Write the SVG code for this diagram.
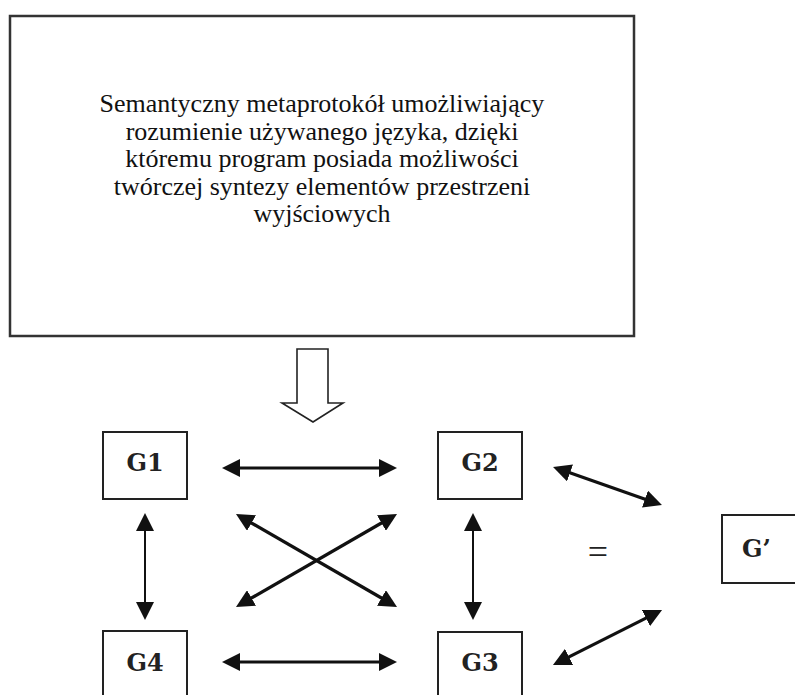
<svg xmlns="http://www.w3.org/2000/svg" width="795" height="695" viewBox="0 0 795 695">
<defs>
<style>
.box{fill:#fff;stroke:#222;stroke-width:2}
.big{fill:#fff;stroke:#333;stroke-width:2.5}
.main{font-size:26px;fill:#111;text-anchor:middle}
.lbl{font-size:24px;font-weight:bold;fill:#222;text-anchor:middle}
.thick{stroke:#111;stroke-width:3.2;fill:none;marker-start:url(#ah);marker-end:url(#ah)}
.thin{stroke:#111;stroke-width:2;fill:none;marker-start:url(#ah);marker-end:url(#ah)}
</style>
<marker id="ah" viewBox="0 0 18 18" refX="10" refY="9" markerWidth="18" markerHeight="18" markerUnits="userSpaceOnUse" orient="auto-start-reverse">
<path d="M0,0 L18,9 L0,18 z" fill="#111"/>
</marker>
</defs>
<rect width="795" height="695" fill="#fff"/>
<g id="protocol" font-family="'Liberation Serif', 'Times New Roman', 'DejaVu Serif', serif">
<rect class="big" x="10" y="16" width="624" height="320"/>
<text class="main" x="322" y="112">Semantyczny metaprotokół umożliwiający</text>
<text class="main" x="322" y="139.5">rozumienie używanego języka, dzięki</text>
<text class="main" x="322" y="167">któremu program posiada możliwości</text>
<text class="main" x="322" y="194.5">twórczej syntezy elementów przestrzeni</text>
<text class="main" x="322" y="222">wyjściowych</text>
</g>
<g font-family="'DejaVu Serif', 'Liberation Serif', serif">
<g id="G1"><rect class="box" x="103" y="432" width="84" height="67"/><text class="lbl" x="145" y="471">G1</text></g>
<g id="G2"><rect class="box" x="438" y="432" width="84" height="67"/><text class="lbl" x="480" y="471">G2</text></g>
<g id="G4"><rect class="box" x="103" y="631" width="84" height="70"/><text class="lbl" x="145" y="671">G4</text></g>
<g id="G3"><rect class="box" x="438" y="632" width="84" height="70"/><text class="lbl" x="480" y="671">G3</text></g>
<g id="Gprime"><rect class="box" x="722" y="515" width="80" height="68"/><text class="lbl" x="742" y="557" style="text-anchor:start">G’</text></g>
</g>
<text x="598" y="564" font-family="'Liberation Serif', serif" font-size="36" fill="#222" text-anchor="middle">=</text>
<g id="connectors">
<polygon points="297,349 328,349 328,403 343,403 313,422 282,403 297,403" fill="#fff" stroke="#222" stroke-width="1.6"/>
<line class="thick" x1="230" y1="468" x2="389" y2="468"/>
<line class="thick" x1="230" y1="662" x2="389" y2="662"/>
<line class="thin" x1="145" y1="521" x2="145" y2="612"/>
<line class="thin" x1="473" y1="521" x2="473" y2="612"/>
<line class="thick" x1="242.9" y1="518" x2="390.1" y2="603"/>
<line class="thick" x1="390.1" y1="518" x2="242.9" y2="603"/>
<line class="thick" x1="560.6" y1="469.6" x2="654.4" y2="502.4"/>
<line class="thick" x1="560.1" y1="661.4" x2="654.9" y2="613.6"/>
</g>
</svg>
